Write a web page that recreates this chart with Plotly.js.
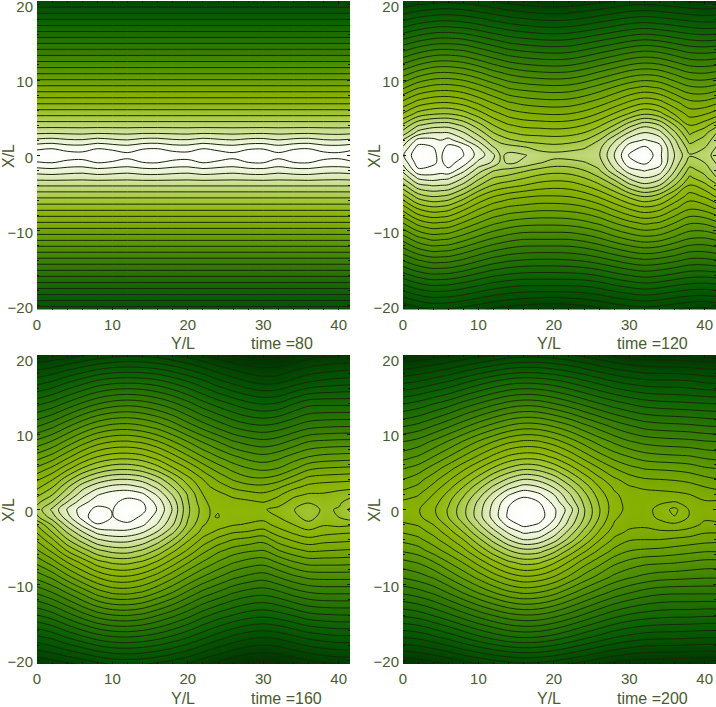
<!DOCTYPE html>
<html><head><meta charset="utf-8">
<script src="https://cdn.plot.ly/plotly-3.0.1.min.js"></script>
<style>html,body{margin:0;padding:0;background:#fff;overflow:hidden;width:716px;height:707px}#c{width:716px;height:727px;margin-top:-20px}</style>
</head><body><div id="c"></div>
<script>
const columnsY=[0,2,4,6,8,10,12,14,16,18,20,22,24,26,28,30,32,34,36,38,40,42];
const columnsY120=[0,2,4,5,6,8,10,12,13,14,16,18,20,22,24,26,28,30,32,34,36,38,40,42];
const columnsY160=[0,2,4,6,8,10,12,14,16,18,20,22,23,24,25,26,28,30,32,34,36,38,40,42];
const rowsX=[20.5,17,14,11,9,7,5.5,4,3,2,1,0,-1,-2,-3,-4,-5.5,-7,-9,-11,-14,-17,-20.5];
const xTicks=[0,10,20,30,40];
const yTicks=[-20,-10,0,10,20];
const times=['time =80','time =120','time =160','time =200'];

const time80=[
[26,26,26,26,26,26,26,26,26,26,26,26,26,26,26,26,26,26,26,26,26,26],
[21.7,21.7,21.7,21.7,21.7,21.7,21.7,21.7,21.7,21.7,21.7,21.7,21.7,21.7,21.7,21.7,21.7,21.7,21.7,21.7,21.7,21.7],
[17.9,17.9,17.9,17.9,17.9,17.9,17.9,17.9,17.9,17.9,17.9,17.9,17.9,17.9,17.9,17.9,17.9,17.9,17.9,17.9,17.9,17.9],
[14.2,14.2,14.2,14.2,14.2,14.2,14.2,14.2,14.2,14.2,14.2,14.2,14.2,14.2,14.2,14.2,14.2,14.2,14.2,14.2,14.2,14.2],
[11.7,11.7,11.7,11.7,11.7,11.7,11.7,11.7,11.7,11.7,11.7,11.7,11.7,11.7,11.7,11.7,11.7,11.7,11.7,11.7,11.7,11.7],
[9.2,9.2,9.2,9.2,9.2,9.2,9.2,9.2,9.2,9.2,9.2,9.2,9.2,9.2,9.2,9.2,9.2,9.2,9.2,9.2,9.2,9.2],
[7.3,7.3,7.3,7.3,7.3,7.3,7.3,7.3,7.3,7.3,7.3,7.3,7.3,7.3,7.3,7.3,7.3,7.3,7.3,7.3,7.3,7.3],
[5.4,5.4,5.4,5.4,5.4,5.4,5.4,5.4,5.4,5.4,5.4,5.4,5.4,5.4,5.4,5.4,5.4,5.4,5.4,5.4,5.4,5.4],
[4.2,4.15,4.2,4.25,4.15,4.2,4.25,4.15,4.15,4.2,4.25,4.15,4.2,4.25,4.2,4.15,4.25,4.2,4.15,4.25,4.3,4.2],
[2.75,2.6,2.85,2.9,2.6,2.8,2.95,2.65,2.6,2.85,2.9,2.6,2.8,2.95,2.7,2.65,2.95,2.7,2.6,2.9,2.95,2.75],
[1.3,1.15,1.45,1.5,1.15,1.35,1.55,1.2,1.15,1.45,1.5,1.15,1.4,1.55,1.25,1.2,1.55,1.25,1.15,1.5,1.55,1.3],
[0.3,0,0.5,0.6,0,0.3,0.7,0.2,0,0.5,0.6,0,0.4,0.7,0.2,0.1,0.7,0.2,0,0.6,0.7,0.3],
[1.1,1,1.25,1.3,1,1.15,1.35,1.05,1,1.25,1.3,1,1.2,1.35,1.05,1,1.35,1.05,1,1.3,1.35,1.1],
[2.45,2.3,2.5,2.6,2.3,2.45,2.6,2.35,2.3,2.5,2.6,2.3,2.45,2.6,2.35,2.3,2.6,2.35,2.3,2.55,2.6,2.45],
[3.6,3.55,3.6,3.65,3.55,3.6,3.65,3.55,3.55,3.6,3.65,3.55,3.6,3.65,3.6,3.55,3.65,3.6,3.55,3.65,3.7,3.6],
[4.9,4.9,4.9,4.9,4.9,4.9,4.9,4.9,4.9,4.9,4.9,4.9,4.9,4.9,4.9,4.9,4.9,4.9,4.9,4.9,4.9,4.9],
[6.8,6.8,6.8,6.8,6.8,6.8,6.8,6.8,6.8,6.8,6.8,6.8,6.8,6.8,6.8,6.8,6.8,6.8,6.8,6.8,6.8,6.8],
[8.6,8.6,8.6,8.6,8.6,8.6,8.6,8.6,8.6,8.6,8.6,8.6,8.6,8.6,8.6,8.6,8.6,8.6,8.6,8.6,8.6,8.6],
[11.1,11.1,11.1,11.1,11.1,11.1,11.1,11.1,11.1,11.1,11.1,11.1,11.1,11.1,11.1,11.1,11.1,11.1,11.1,11.1,11.1,11.1],
[13.6,13.6,13.6,13.6,13.6,13.6,13.6,13.6,13.6,13.6,13.6,13.6,13.6,13.6,13.6,13.6,13.6,13.6,13.6,13.6,13.6,13.6],
[17.4,17.4,17.4,17.4,17.4,17.4,17.4,17.4,17.4,17.4,17.4,17.4,17.4,17.4,17.4,17.4,17.4,17.4,17.4,17.4,17.4,17.4],
[21.1,21.1,21.1,21.1,21.1,21.1,21.1,21.1,21.1,21.1,21.1,21.1,21.1,21.1,21.1,21.1,21.1,21.1,21.1,21.1,21.1,21.1],
[25.5,25.5,25.5,25.5,25.5,25.5,25.5,25.5,25.5,25.5,25.5,25.5,25.5,25.5,25.5,25.5,25.5,25.5,25.5,25.5,25.5,25.5]
];

const time120=[
[27,26.6,26.4,26.3,26.3,26.4,26.7,27,27.2,27.4,27.6,27.8,27.9,27.8,27.6,27.3,27,26.7,26.6,26.7,26.9,27.1,27.2,27.1],
[23,22.4,22,21.9,21.9,22.1,22.5,23,23.2,23.4,23.7,23.9,24,23.9,23.6,23.2,22.8,22.4,22.2,22.4,22.7,23,23.2,23.1],
[19.2,18.5,18,17.9,17.9,18.1,18.7,19.3,19.6,19.9,20.2,20.4,20.5,20.4,20,19.5,19,18.5,18.2,18.4,18.9,19.4,19.5,19.3],
[15.6,14.7,14.1,14,14,14.3,14.9,15.7,16,16.3,16.7,16.9,17,16.9,16.5,15.9,15.3,14.7,14.4,14.6,15.3,16,16.1,15.8],
[13.2,12.1,11.6,11.5,11.5,11.8,12.5,13.3,13.7,14.1,14.4,14.6,14.7,14.6,14.2,13.6,12.9,12.2,11.8,12.1,13,13.8,13.9,13.4],
[10.7,9.6,9.1,9,9,9.4,10.2,11.1,11.5,11.9,12.3,12.5,12.6,12.5,12.1,11.5,10.7,9.8,9.2,9.6,10.7,11.7,11.7,11],
[8.9,7.6,7.1,7,7,7.5,8.5,9.6,10,10.4,10.8,11,11.1,11,10.6,9.9,8.9,7.9,7.1,7.6,9.1,10.4,10.1,9.2],
[6.8,5.1,4.5,4.4,4.4,5.2,6.6,8,8.5,8.9,9.3,9.4,9.5,9.4,9,8.2,7,5.4,4.3,5,7,9,8.4,7],
[5.6,3.6,3,3,3,3.9,5.4,7,7.5,7.9,8.3,8.4,8.5,8.4,8,7.1,5.6,3.9,2.9,3.6,5.8,8.2,7.3,5.7],
[3.9,1.6,1.7,2,1.6,2.8,4.2,5.9,6.4,6.8,7.3,7.4,7.5,7.4,7,6,4.2,2.5,1.9,2.4,4.8,7.4,6.6,5.1],
[2.8,0.6,0.95,1.5,0.6,1.1,2.9,4.9,5.4,5.5,5.8,6.4,6.6,6.4,6.1,5.3,3.4,1.4,0.8,1.6,4.3,6.5,6,4.6],
[2.1,0.1,0.85,1.2,0.1,0.95,2.4,3.8,5.2,4.7,4.9,5.4,5.6,5.5,5.3,5.1,3,0.9,0.03,1.7,4,5.9,5.5,4.3],
[2.7,0.5,0.85,1.2,0.6,1.5,3.3,4.2,5.3,4.8,5.2,5.9,6.4,6.4,6.1,5.5,3.4,1.3,0.8,1.6,4.3,6.5,6,4.6],
[3.7,1.2,1.3,1.5,1.2,2.7,4.5,5.9,6.1,6.3,6.8,7.3,7.6,7.5,7,6.1,4.2,2.4,1.9,2.4,4.9,7.4,6.6,5.1],
[4.9,2.8,2.5,2.7,2.8,4,5.7,7,7.2,7.4,7.9,8.4,8.6,8.5,8,7.1,5.6,3.8,3,3.6,5.8,8.2,7.3,5.7],
[6.3,4.3,3.9,4,4.1,5.3,6.9,8.1,8.4,8.6,9,9.4,9.6,9.5,9,8.2,7,5.3,4.3,5,7,9.1,8.3,6.9],
[8.4,6.6,6,6.1,6.3,7.5,9,10,10.3,10.6,10.9,11.1,11.1,11,10.6,9.9,8.9,7.8,7,7.6,9.1,10.5,9.9,8.6],
[10.5,8.8,8.2,8.3,8.5,9.6,10.8,11.7,11.95,12.2,12.4,12.6,12.6,12.5,12.2,11.6,10.7,9.8,9.2,9.6,10.8,11.8,11.5,10.6],
[13,11.6,11,11.1,11.2,12.1,13,13.8,14.05,14.3,14.6,14.7,14.7,14.6,14.3,13.8,13,12.3,11.8,12.1,13,13.9,13.8,13],
[15.5,14.2,13.6,13.7,13.8,14.5,15.3,16,16.25,16.5,16.8,16.8,16.8,16.8,16.5,16,15.3,14.7,14.3,14.5,15.2,15.9,16,15.5],
[19,18.1,17.6,17.65,17.7,18.2,18.9,19.5,19.7,19.9,20.1,20.2,20.2,20.1,19.9,19.5,19,18.5,18.2,18.4,18.8,19.3,19.3,19],
[22.8,22,21.6,21.65,21.7,22.1,22.6,23.1,23.25,23.4,23.6,23.6,23.6,23.6,23.5,23.2,22.7,22.3,22,22.2,22.6,22.9,23,22.8],
[27,26.4,26,26.05,26.1,26.4,26.8,27.2,27.35,27.5,27.7,27.9,28,27.8,27.6,27.3,26.9,26.6,26.4,26.6,26.9,27.2,27.3,27]
];

const time160=[
[28,27.8,27.5,27.1,26.7,26.4,26.2,26.3,26.5,26.9,27.4,28,28.3,28.6,28.85,29.1,29.4,29.5,29.4,29,28.6,28.3,28.1,28],
[24.5,24,23.2,22.5,21.8,21.4,21.3,21.4,21.7,22.3,23,23.8,24.25,24.7,25.05,25.4,26,26.4,26.3,25.7,25.1,24.8,24.6,24.5],
[21.2,20.6,19.7,18.8,18,17.5,17.3,17.5,18,18.7,19.6,20.6,21,21.4,21.75,22.1,22.7,23,22.8,22,21.3,21.2,21.2,21.2],
[18,17.2,16.1,15,14.1,13.6,13.5,13.8,14.4,15.3,16.4,17.4,17.85,18.3,18.7,19.1,19.6,19.8,19.5,18.9,18.3,18.1,18,18],
[15.7,14.9,13.7,12.5,11.5,11,10.9,11.2,11.9,12.9,14,15.1,15.55,16,16.45,16.9,17.4,17.7,17.4,16.7,16,15.8,15.7,15.7],
[13.5,12.6,11.3,10,9,8.5,8.4,8.7,9.5,10.6,11.8,13,13.5,14,14.4,14.8,15.4,15.7,15.3,14.6,14,13.7,13.6,13.5],
[11.8,10.8,9.4,8,7,6.4,6.3,6.7,7.6,8.9,10.1,11.4,12,12.5,12.95,13.4,14,14.3,14,13.2,12.3,12,11.9,11.8],
[10.2,9.1,7.4,5.8,4.7,4.1,4,4.4,5.5,7,8.6,10,10.6,11.2,11.65,12.1,12.7,12.8,12.4,11.5,10.6,10.4,10.3,10.2],
[9.3,8.1,6.2,4.4,3.3,2.7,2.6,3.1,4.3,6,7.8,9.5,10,10.4,10.8,11.2,11.6,11.7,11.2,10.3,9.7,9.5,9.4,9.3],
[8.3,7.1,5.2,3.4,2.1,1.5,1.3,1.8,3.2,5.1,7.1,9,9.5,9.7,10,10.3,10.6,10.8,10.2,9.3,8.9,8.9,8.6,8.3],
[7.3,6,4,2.4,1.4,1.2,0.7,1,2.4,4.4,6.9,8.7,9.25,9.4,9.5,9.6,9.8,10.05,9.5,8.6,8.1,8.5,8.2,7.4],
[6.6,4.8,2.9,1.5,0.7,1.05,0.2,0.7,2.1,4.1,6.8,8.4,9.05,9.05,9.2,9.3,9.3,9.1,8.7,8.05,7.4,8.2,7.9,6.5],
[7.2,5.5,3.4,1.6,0.1,1.05,0.5,1.2,2.5,4.4,6.9,8.5,9.08,8.95,9.25,9.5,9.6,9.6,9,8.3,7.6,8.4,8,7.2],
[8.9,6.9,4.6,2.7,1.1,1.2,1.2,1.8,3.1,4.9,7.2,8.9,9.25,9.4,9.65,9.9,10.1,10.4,9.6,9,8.3,8.9,8.7,8.9],
[9.9,8,5.9,4.1,2.7,2.3,2.3,2.9,4.1,5.8,7.9,9.4,9.85,10.3,10.6,10.9,11.1,11.4,10.5,9.8,9.3,9.6,9.8,9.9],
[10.8,9.2,7.1,5.5,4.1,3.6,3.6,4.2,5.4,7,8.8,10.3,10.8,11.3,11.65,12,12.3,12.6,11.5,10.8,10.3,10.6,10.7,10.8],
[12.2,10.8,9,7.6,6.3,5.7,5.6,6.2,7.3,8.8,10.2,11.7,12.25,12.8,13.15,13.5,13.9,14.1,13.1,12.4,11.9,12,12.1,12.2],
[13.7,12.5,11,9.7,8.4,7.8,7.7,8.2,9.2,10.5,11.9,13.1,13.6,14.1,14.5,14.9,15.4,15.6,14.9,14.1,13.6,13.6,13.6,13.7],
[15.7,14.8,13.4,12.1,11,10.3,10.2,10.7,11.6,12.8,14,15.1,15.55,16,16.4,16.8,17.3,17.6,17,16.3,15.8,15.7,15.7,15.7],
[17.8,17,15.9,14.7,13.5,12.8,12.7,13.1,14,15,16.2,17.3,17.7,18.1,18.5,18.9,19.4,19.6,19.2,18.5,18,17.8,17.8,17.8],
[21,20.4,19.4,18.4,17.5,17,16.9,17.2,17.9,18.7,19.6,20.6,21,21.4,21.7,22,22.5,22.7,22.4,21.9,21.3,21.1,21,21],
[24.3,23.8,23,22.3,21.6,21.2,21.1,21.3,21.7,22.3,23,23.8,24.2,24.6,24.95,25.3,25.8,26,25.8,25.3,24.8,24.5,24.3,24.3],
[27.9,27.6,27.2,26.8,26.3,25.9,25.8,25.9,26.2,26.6,27.1,27.8,28.1,28.4,28.65,28.9,29.3,29.5,29.3,28.9,28.5,28.2,28,27.9]
];

const time200=[
[29,28.8,28.5,28.2,27.8,27.4,27,26.6,26.4,26.4,26.6,26.9,27.3,27.8,28.2,28.5,28.7,28.8,28.8,28.9,29,29],
[25.3,25,24.5,24,23.3,22.6,22,21.5,21.3,21.4,21.7,22.2,22.8,23.4,24,24.4,24.7,24.8,24.8,24.9,25.2,25.3],
[22,21.6,21,20.4,19.6,18.9,18.2,17.6,17.3,17.4,17.9,18.5,19.2,19.9,20.5,21,21.4,21.6,21.7,21.8,21.9,22],
[19,18.6,17.9,17.1,16.2,15.3,14.5,13.8,13.4,13.5,14,14.7,15.6,16.4,17.2,17.8,18.3,18.5,18.6,18.7,18.9,19],
[17,16.6,15.8,14.9,13.9,12.9,12,11.2,10.8,10.9,11.5,12.4,13.4,14.4,15.2,15.9,16.3,16.5,16.6,16.7,16.9,17],
[15.4,14.9,14,13,11.9,10.8,9.7,8.8,8.4,8.5,9.2,10.2,11.4,12.5,13.4,14,14.5,14.7,14.8,14.9,15.2,15.4],
[14.1,13.6,12.6,11.5,10.3,9.1,7.9,6.9,6.3,6.5,7.3,8.5,9.8,11,12,12.7,13.1,13.2,13.3,13.5,13.9,14.1],
[13,12.4,11.4,10.2,8.9,7.5,6,4.8,4,4.3,5.3,6.8,8.3,9.7,10.8,11.5,11.9,12,12.1,12.3,12.7,13],
[12.3,11.8,10.7,9.4,8,6.4,4.8,3.4,2.6,3,4.1,5.7,7.4,9,10.2,10.9,11.2,11.3,11.4,11.6,12,12.3],
[11.6,11.1,10,8.7,7.2,5.5,3.7,2.1,1.3,1.8,3,4.8,6.7,8.5,9.8,10.5,10.6,10.7,10.8,11,11.4,11.6],
[10.8,10.5,9.5,8.2,6.6,4.8,2.9,1.2,0.5,1,2.3,4.2,6.2,8.1,9.6,10.4,10.6,10.2,9.95,10.3,10.9,10.8],
[10.4,10.1,9.2,7.9,6.3,4.5,2.6,0.9,0.05,0.6,1.8,3.4,5.9,7.9,9.6,10.3,10.5,9.6,8.7,10.1,10.6,10.4],
[10.5,10.2,9.4,8,6.4,4.5,2.6,0.8,0,0.5,1.8,3.9,6,8,9.8,10.5,10.55,9.75,9.05,10.1,10.8,10.5],
[11.2,10.9,10,8.7,7.1,5.2,3.3,1.6,0.7,1.1,2.4,4.4,6.5,8.5,10.1,10.7,10.8,10.4,10.2,10.6,11.2,11.2],
[11.9,11.5,10.7,9.5,8,6.2,4.4,2.8,1.8,2.1,3.4,5.3,7.3,9.1,10.6,11.2,11.3,11.2,11.2,11.4,11.9,11.9],
[12.7,12.3,11.4,10.3,9,7.3,5.6,4,3,3.3,4.5,6.3,8.2,9.9,11.2,11.9,12,12,12.2,12.4,12.6,12.7],
[13.9,13.5,12.6,11.6,10.4,8.9,7.4,6.1,5.4,5.6,6.7,8.3,9.8,11.2,12.3,13,13.2,13.3,13.5,13.7,13.9,13.9],
[15.3,14.9,14.1,13,11.9,10.6,9.3,8.2,7.6,7.8,8.8,10.1,11.5,12.6,13.7,14.3,14.7,14.8,14.9,15.1,15.3,15.3],
[16.9,16.5,15.9,14.9,13.8,12.7,11.6,10.7,10.2,10.4,11.1,12.2,13.4,14.4,15.3,15.9,16.3,16.6,16.7,16.8,16.9,16.9],
[18.8,18.4,17.8,16.9,15.9,14.9,14,13.2,12.8,13,13.6,14.6,15.6,16.5,17.3,17.9,18.4,18.7,18.8,18.8,18.8,18.8],
[21.8,21.5,20.9,20.2,19.4,18.6,17.9,17.3,17,17.1,17.6,18.3,19.1,19.9,20.6,21.1,21.4,21.6,21.7,21.7,21.8,21.8],
[25,24.8,24.3,23.7,23,22.3,21.7,21.2,21,21.1,21.5,22.1,22.8,23.4,24,24.4,24.7,24.8,24.8,24.9,25,25],
[28.9,28.7,28.4,28,27.5,27.1,26.7,26.4,26.2,26.3,26.6,27,27.4,27.9,28.3,28.6,28.7,28.8,28.8,28.9,28.9,28.9]
];

const fields=[time80,time120,time160,time200];
const fieldColumns=[columnsY,columnsY120,columnsY160,columnsY];
const zMax=30;
const colorStops=[[0,'#ffffff'],[1.5,'#fafcf2'],[3,'#e6efc8'],[5,'#c6da84'],[7,'#a6c83e'],[9,'#8fb70a'],[11,'#82ad00'],[14,'#5f9a00'],[17,'#3e8200'],[20,'#217000'],[23,'#0a6000'],[26,'#004c00'],[28,'#003c00'],[30,'#002f00']];
const colorscale=colorStops.map(s=>[s[0]/zMax,s[1]]);
const yAsc=rowsX.slice().reverse();
const W=716,H=727,T=20;
const boxes=[[37,350,1,309.5],[403,716,1,309.5],[37,350,355,664],[403,716,355,664]];
const inkColor='#4b5a30';
const fontFace='"Liberation Sans",Arial,sans-serif';
const data=[],annotations=[];
const layout={width:W,height:H,margin:{l:0,r:0,t:0,b:0},paper_bgcolor:'#fff',plot_bgcolor:'#fff',showlegend:false,font:{family:fontFace,size:15,color:inkColor}};
fields.forEach((rows,i)=>{
  const n=i+1,z=rows.slice().reverse();
  const xa='x'+(n===1?'':n),ya='y'+(n===1?'':n);
  const b=boxes[i];
  data.push({type:'heatmap',x:fieldColumns[i],y:yAsc,z:z,xaxis:xa,yaxis:ya,zmin:0,zmax:zMax,zsmooth:'best',colorscale:colorscale,showscale:false,hoverinfo:'skip'});
  data.push({type:'contour',x:fieldColumns[i],y:yAsc,z:z,xaxis:xa,yaxis:ya,showscale:false,hoverinfo:'skip',autocontour:false,
    contours:{start:1,end:32,size:1,coloring:'none'},line:{color:'#18280c',width:1,smoothing:1}});
  const common={showgrid:false,zeroline:false,showline:false,ticks:'inside',ticklen:3,tickwidth:1,tickcolor:'#0c1c06',mirror:'ticks',tickfont:{family:fontFace,size:15,color:inkColor}};
  layout['xaxis'+(n===1?'':n)]=Object.assign({},common,{anchor:ya,domain:[b[0]/W,b[1]/W],range:[0,41.5],tickvals:xTicks,ticklabelstandoff:4,
    minor:{tick0:0,dtick:2,ticks:'inside',ticklen:2,tickwidth:1,tickcolor:'#0c1c06',showgrid:false}});
  layout['yaxis'+(n===1?'':n)]=Object.assign({},common,{anchor:xa,domain:[1-(b[3]+T)/H,1-(b[2]+T)/H],range:[-20.5,20.5],tickvals:yTicks,ticklabelstandoff:3,ticklabelshift:2,
    minor:{tick0:0,dtick:2,ticks:'inside',ticklen:2,tickwidth:1,tickcolor:'#0c1c06',showgrid:false}});
  const base={xref:'paper',yref:'paper',showarrow:false,xanchor:'center',yanchor:'middle',font:{family:fontFace,size:16,color:inkColor}};
  annotations.push(Object.assign({},base,{x:(b[0]+146)/W,y:1-(b[3]+T+34)/H,text:'Y/L'}));
  annotations.push(Object.assign({},base,{xanchor:'left',x:(b[0]+211.5)/W,y:1-(b[3]+T+34)/H,text:times[i]}));
  annotations.push(Object.assign({},base,{x:(b[0]-29)/W,y:1-(b[2]+T+155)/H,text:'X/L',textangle:-90}));
});
layout.annotations=annotations;
Plotly.newPlot('c',data,layout,{displayModeBar:false,responsive:false});
</script></body></html>
